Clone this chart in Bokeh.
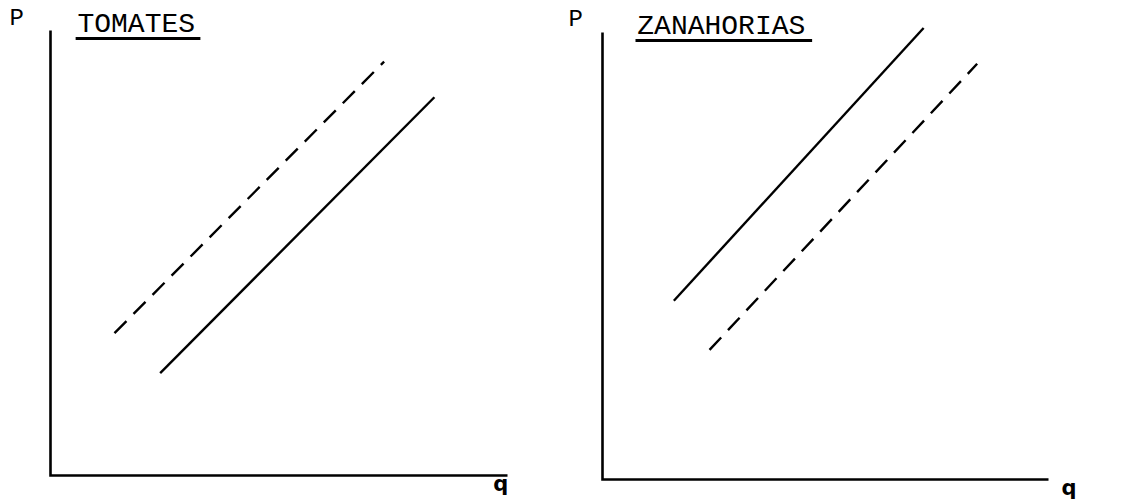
from bokeh.plotting import figure
from bokeh.layouts import row
from bokeh.models import Range1d
from bokeh.core.properties import value
from bokeh.embed import file_html
from bokeh.resources import INLINE

# Supply curves, quantity (q) vs price (P), in arbitrary units 0..10
tomates_q_solid = [2.4, 8.4]
tomates_p_solid = [2.3, 8.5]
tomates_q_dashed = [1.4, 7.3]
tomates_p_dashed = [3.2, 9.3]

zanahorias_q_solid = [1.6, 7.2]
zanahorias_p_solid = [4.0, 10.1]
zanahorias_q_dashed = [2.4, 8.4]
zanahorias_p_dashed = [2.9, 9.3]

axis_max = 10
titles = ["TOMATES", "ZANAHORIAS"]

MONO = value("Liberation Mono")


def panel(title, q_solid, p_solid, q_dash, p_dash, width, origin_x, origin_y,
          px_per_q, px_per_p, title_x, underline_end, p_x, q_x):
    p = figure(width=width, height=502, output_backend="svg",
               toolbar_location=None,
               x_range=Range1d(-origin_x / px_per_q,
                               (width - origin_x) / px_per_q),
               y_range=Range1d(-(502 - origin_y) / px_per_p,
                               origin_y / px_per_p),
               min_border=0)
    p.outline_line_color = None
    p.grid.visible = False
    p.axis.visible = False

    # L-shaped axes: P upwards, q to the right
    p.line([0, 0, axis_max], [axis_max, 0, 0], line_color="black",
           line_width=2.6, line_join="miter")

    p.line(q_solid, p_solid, line_color="black", line_width=2.4)
    p.line(q_dash, p_dash, line_color="black", line_width=2.4,
           line_dash="17 10")

    p.text(x=[title_x], y=[10.14], text=[title], text_font=MONO,
           text_font_size="28px", text_color="black",
           text_baseline="middle")
    p.line([title_x - 0.04, underline_end], [9.82, 9.82],
           line_color="black", line_width=3)
    p.text(x=[p_x], y=[10.28], text=["P"], text_font=MONO,
           text_font_size="24px", text_color="black",
           text_align="center", text_baseline="middle")
    p.text(x=[q_x], y=[-0.2], text=["q"], text_font=value("DejaVu Sans"),
           text_font_style="bold", text_font_size="21px",
           text_color="black", text_align="center", text_baseline="middle")
    return p


left = panel(titles[0], tomates_q_solid, tomates_p_solid,
             tomates_q_dashed, tomates_p_dashed,
             width=564, origin_x=50, origin_y=475, px_per_q=45.7,
             px_per_p=44.5, title_x=0.59, underline_end=3.28,
             p_x=-0.74, q_x=9.85)
right = panel(titles[1], zanahorias_q_solid, zanahorias_p_solid,
              zanahorias_q_dashed, zanahorias_p_dashed,
              width=565, origin_x=38, origin_y=479, px_per_q=44.6,
              px_per_p=44.7, title_x=0.78, underline_end=4.7,
              p_x=-0.6, q_x=10.46)

layout = row(left, right)
open("out.html", "w").write(file_html(layout, INLINE))
